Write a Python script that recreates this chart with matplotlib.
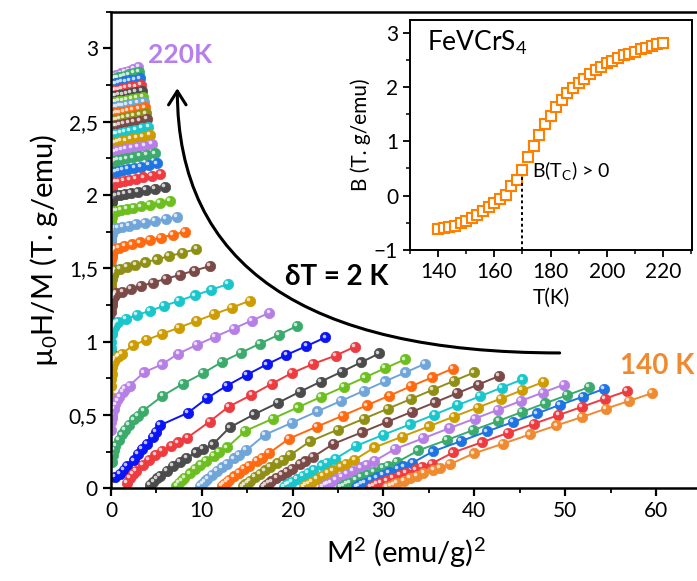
import matplotlib
matplotlib.use("Agg")
import matplotlib.pyplot as plt
import numpy as np
from matplotlib.ticker import MultipleLocator, FixedLocator, FixedFormatter
from matplotlib.transforms import ScaledTranslation

plt.rcParams['font.family'] = ['Lato', 'DejaVu Sans']
plt.rcParams['mathtext.fontset'] = 'custom'
plt.rcParams['mathtext.rm'] = 'Lato'
plt.rcParams['mathtext.it'] = 'Lato:italic'
plt.rcParams['mathtext.bf'] = 'Lato:bold'
plt.rcParams['mathtext.default'] = 'regular'

# applied field of each point (T)
fields = [0.05, 0.1, 0.15, 0.2, 0.3, 0.4, 0.5, 0.6, 0.75, 0.85, 1.0,
          1.5, 2.0, 2.5, 3.0, 3.5, 4.0, 4.5, 5.0]

# mu0H/M (T.g/emu) of each isotherm, same order as fields
hm_220 = [2.407, 2.557, 2.617, 2.677, 2.727, 2.747, 2.767, 2.777, 2.787, 2.797, 2.807, 2.810, 2.815, 2.821, 2.829, 2.838, 2.849, 2.861, 2.874]
hm_218 = [2.392, 2.542, 2.602, 2.662, 2.712, 2.732, 2.752, 2.762, 2.772, 2.782, 2.792, 2.794, 2.798, 2.802, 2.808, 2.814, 2.822, 2.830, 2.840]
hm_216 = [2.357, 2.507, 2.567, 2.627, 2.677, 2.697, 2.717, 2.727, 2.737, 2.747, 2.757, 2.759, 2.761, 2.765, 2.769, 2.775, 2.781, 2.787, 2.795]
hm_214 = [2.311, 2.461, 2.521, 2.581, 2.631, 2.651, 2.671, 2.681, 2.691, 2.701, 2.711, 2.713, 2.715, 2.719, 2.723, 2.729, 2.735, 2.741, 2.749]
hm_212 = [2.272, 2.422, 2.482, 2.542, 2.592, 2.612, 2.632, 2.642, 2.652, 2.662, 2.672, 2.674, 2.676, 2.680, 2.684, 2.690, 2.696, 2.702, 2.710]
hm_210 = [2.231, 2.381, 2.441, 2.501, 2.551, 2.571, 2.591, 2.601, 2.611, 2.621, 2.631, 2.633, 2.635, 2.639, 2.643, 2.649, 2.655, 2.661, 2.669]
hm_208 = [2.197, 2.347, 2.407, 2.467, 2.517, 2.537, 2.557, 2.567, 2.577, 2.587, 2.597, 2.599, 2.601, 2.605, 2.609, 2.615, 2.621, 2.627, 2.635]
hm_206 = [2.154, 2.304, 2.364, 2.424, 2.474, 2.494, 2.514, 2.524, 2.534, 2.544, 2.554, 2.556, 2.559, 2.563, 2.568, 2.574, 2.581, 2.588, 2.597]
hm_204 = [2.108, 2.258, 2.318, 2.378, 2.428, 2.448, 2.468, 2.478, 2.488, 2.498, 2.508, 2.510, 2.514, 2.518, 2.524, 2.530, 2.538, 2.546, 2.556]
hm_202 = [2.069, 2.219, 2.279, 2.339, 2.389, 2.409, 2.429, 2.439, 2.449, 2.459, 2.469, 2.471, 2.475, 2.479, 2.485, 2.491, 2.499, 2.507, 2.517]
hm_200 = [2.012, 2.162, 2.222, 2.282, 2.332, 2.352, 2.372, 2.382, 2.392, 2.402, 2.412, 2.415, 2.419, 2.424, 2.430, 2.437, 2.445, 2.455, 2.465]
hm_198 = [1.955, 2.105, 2.165, 2.225, 2.275, 2.295, 2.315, 2.325, 2.335, 2.345, 2.355, 2.358, 2.362, 2.367, 2.373, 2.380, 2.388, 2.398, 2.408]
hm_196 = [1.894, 2.044, 2.104, 2.164, 2.214, 2.234, 2.254, 2.264, 2.274, 2.284, 2.294, 2.297, 2.301, 2.306, 2.312, 2.319, 2.327, 2.337, 2.347]
hm_194 = [1.831, 1.981, 2.041, 2.101, 2.151, 2.171, 2.191, 2.201, 2.211, 2.221, 2.231, 2.234, 2.238, 2.243, 2.249, 2.256, 2.264, 2.274, 2.284]
hm_192 = [1.757, 1.907, 1.967, 2.027, 2.077, 2.097, 2.117, 2.127, 2.137, 2.147, 2.157, 2.160, 2.165, 2.170, 2.177, 2.184, 2.193, 2.204, 2.215]
hm_190 = [1.684, 1.834, 1.894, 1.954, 2.004, 2.024, 2.044, 2.054, 2.064, 2.074, 2.084, 2.087, 2.092, 2.097, 2.104, 2.111, 2.120, 2.131, 2.142]
hm_188 = [1.594, 1.744, 1.804, 1.864, 1.914, 1.934, 1.954, 1.964, 1.974, 1.984, 1.994, 1.997, 2.001, 2.007, 2.014, 2.023, 2.033, 2.044, 2.056]
hm_186 = [1.491, 1.641, 1.701, 1.761, 1.811, 1.831, 1.851, 1.861, 1.871, 1.881, 1.891, 1.894, 1.899, 1.905, 1.913, 1.922, 1.933, 1.945, 1.958]
hm_184 = [1.374, 1.524, 1.584, 1.644, 1.694, 1.714, 1.734, 1.744, 1.754, 1.764, 1.774, 1.778, 1.784, 1.792, 1.801, 1.812, 1.823, 1.837, 1.851]
hm_182 = [1.235, 1.385, 1.445, 1.505, 1.555, 1.575, 1.595, 1.605, 1.615, 1.625, 1.635, 1.642, 1.651, 1.663, 1.677, 1.692, 1.710, 1.729, 1.749]
hm_180 = [1.087, 1.237, 1.297, 1.357, 1.407, 1.427, 1.447, 1.457, 1.467, 1.477, 1.487, 1.496, 1.508, 1.523, 1.541, 1.561, 1.583, 1.606, 1.631]
hm_178 = [0.930, 1.080, 1.140, 1.200, 1.250, 1.270, 1.290, 1.300, 1.310, 1.320, 1.330, 1.342, 1.359, 1.379, 1.402, 1.428, 1.455, 1.485, 1.515]
hm_176 = [0.800, 0.900, 0.955, 1.000, 1.050, 1.072, 1.090, 1.102, 1.115, 1.126, 1.137, 1.156, 1.181, 1.2105, 1.2435, 1.279, 1.316, 1.354, 1.393]
hm_174 = [0.620, 0.700, 0.745, 0.780, 0.830, 0.852, 0.870, 0.880, 0.895, 0.905, 0.915, 0.9744, 1.0117, 1.0525, 1.0962, 1.141, 1.187, 1.2327, 1.279]
hm_172 = [0.400, 0.450, 0.476, 0.500, 0.540, 0.572, 0.600, 0.625, 0.660, 0.678, 0.700, 0.790, 0.845, 0.918, 0.9775, 1.0335, 1.089, 1.1435, 1.197]
hm_170 = [0.180, 0.230, 0.262, 0.290, 0.330, 0.367, 0.400, 0.430, 0.470, 0.495, 0.530, 0.630, 0.712, 0.785, 0.860, 0.925, 0.987, 1.047, 1.106]
hm_168 = [0.075, 0.100, 0.125, 0.150, 0.190, 0.232, 0.270, 0.302, 0.350, 0.382, 0.430, 0.515, 0.615, 0.700, 0.775, 0.845, 0.910, 0.970, 1.029]
hm_166 = [0.038, 0.0693, 0.0962, 0.120, 0.1606, 0.1955, 0.2261, 0.2537, 0.291, 0.3136, 0.345, 0.455, 0.556, 0.636, 0.713, 0.785, 0.848, 0.905, 0.965]
hm_164 = [0.0241, 0.0463, 0.0669, 0.0861, 0.1213, 0.1530, 0.1817, 0.2083, 0.2448, 0.2673, 0.2988, 0.415, 0.504, 0.583, 0.658, 0.728, 0.794, 0.858, 0.920]
hm_162 = [0.01863, 0.03653, 0.05375, 0.07034, 0.1019, 0.1314, 0.1593, 0.1857, 0.2228, 0.2462, 0.2795, 0.3903, 0.4742, 0.5514, 0.6237, 0.6915, 0.7564, 0.819, 0.879]
hm_160 = [0.01597, 0.03151, 0.04666, 0.0614, 0.0899, 0.1171, 0.1430, 0.1680, 0.2037, 0.2264, 0.2591, 0.3646, 0.4478, 0.5244, 0.5961, 0.6637, 0.7285, 0.7903, 0.850]
hm_158 = [0.01431, 0.02832, 0.04202, 0.05543, 0.08143, 0.1065, 0.1306, 0.1538, 0.1873, 0.2088, 0.2397, 0.3388, 0.4201, 0.495, 0.5655, 0.6321, 0.696, 0.7566, 0.8154]
hm_156 = [0.01313, 0.02602, 0.03867, 0.0511, 0.0753, 0.0987, 0.1214, 0.1434, 0.1752, 0.1956, 0.2253, 0.3204, 0.4002, 0.4739, 0.5433, 0.609, 0.672, 0.7324, 0.7906]
hm_154 = [0.0122, 0.0242, 0.036, 0.0476, 0.0703, 0.0923, 0.1136, 0.1344, 0.1645, 0.184, 0.2122, 0.3031, 0.3808, 0.4532, 0.5213, 0.586, 0.6481, 0.7076, 0.7651]
hm_152 = [0.01147, 0.02276, 0.03388, 0.04483, 0.06625, 0.0871, 0.1073, 0.1271, 0.1557, 0.1742, 0.2012, 0.2888, 0.3652, 0.4357, 0.5027, 0.5667, 0.6275, 0.6862, 0.7429]
hm_150 = [0.01086, 0.02157, 0.03213, 0.04256, 0.06301, 0.0829, 0.1024, 0.1214, 0.1490, 0.167, 0.1932, 0.2785, 0.3531, 0.4225, 0.4884, 0.5508, 0.6108, 0.6688, 0.7247]
hm_148 = [0.01036, 0.02058, 0.03068, 0.04066, 0.06024, 0.0794, 0.09806, 0.1163, 0.1430, 0.1603, 0.1857, 0.2682, 0.3411, 0.4096, 0.4742, 0.536, 0.5955, 0.6527, 0.7078]
hm_146 = [0.00994, 0.01975, 0.02945, 0.03902, 0.05781, 0.0762, 0.09409, 0.1116, 0.1372, 0.1539, 0.1782, 0.2579, 0.329, 0.396, 0.4594, 0.5203, 0.5789, 0.6349, 0.6894]
hm_144 = [0.00962, 0.01913, 0.02853, 0.03781, 0.05606, 0.0739, 0.09137, 0.1085, 0.1335, 0.1498, 0.1736, 0.2519, 0.3221, 0.3884, 0.4511, 0.5109, 0.569, 0.6243, 0.6785]
hm_142 = [0.00935, 0.01858, 0.02771, 0.03672, 0.05445, 0.0718, 0.0887, 0.1053, 0.1295, 0.1453, 0.1683, 0.2444, 0.3131, 0.3781, 0.4398, 0.4987, 0.5555, 0.6104, 0.6634]
hm_140 = [0.00907, 0.01803, 0.02689, 0.03564, 0.05286, 0.0697, 0.08616, 0.1023, 0.1259, 0.1412, 0.1637, 0.2374, 0.3044, 0.368, 0.4284, 0.486, 0.5421, 0.5958, 0.648]

isotherms = [hm_220, hm_218, hm_216, hm_214, hm_212, hm_210, hm_208, hm_206, hm_204,
             hm_202, hm_200, hm_198, hm_196, hm_194, hm_192, hm_190, hm_188, hm_186,
             hm_184, hm_182, hm_180, hm_178, hm_176, hm_174, hm_172, hm_170, hm_168,
             hm_166, hm_164, hm_162, hm_160, hm_158, hm_156, hm_154, hm_152, hm_150,
             hm_148, hm_146, hm_144, hm_142, hm_140]

# inset: intercept B vs temperature
inset_T = [140, 142, 144, 146, 148, 150, 152, 154, 156, 158, 160, 162, 164, 166,
           168, 170, 172, 174, 176, 178, 180, 182, 184, 186, 188, 190, 192, 194,
           196, 198, 200, 202, 204, 206, 208, 210, 212, 214, 216, 218, 220]
inset_B = [-0.62, -0.60, -0.58, -0.55, -0.50, -0.46, -0.42, -0.355, -0.29, -0.21,
           -0.13, -0.06, 0.02, 0.17, 0.28, 0.48, 0.71, 0.91, 1.12, 1.31, 1.47,
           1.63, 1.765, 1.88, 1.98, 2.07, 2.15, 2.23, 2.31, 2.37, 2.43, 2.48,
           2.53, 2.58, 2.61, 2.65, 2.69, 2.72, 2.75, 2.785, 2.80]

y_ticks = [0, 0.5, 1, 1.5, 2, 2.5, 3]
y_tick_labels = ['0', '0,5', '1', '1,5', '2', '2,5', '3']

palette = ['#b67fe6', '#3aab6b', '#1f74e3', '#ee3b40', '#4b4b4b', '#6cbf1f',
           '#6fa5d8', '#ff6a10', '#8f8f15', '#7b4a47', '#18c6cc', '#cc9c00']
colors = [palette[i % 12] for i in range(len(isotherms))]
colors[26] = '#0a14f5'
colors[40] = '#f08a30'

fig = plt.figure(figsize=(6.97, 5.81), dpi=100)
ax = fig.add_axes([111 / 697, 92.7 / 581, 589 / 697, 476.6 / 581])

H = np.array(fields)
hl = ax.transData + ScaledTranslation(-1.3 / 72, 1.3 / 72, fig.dpi_scale_trans)
for hm, c in zip(isotherms, colors):
    hm = np.array(hm)
    m2 = (H / hm) ** 2
    ax.plot(m2, hm, '-o', color=c, lw=1.4, ms=7.5, mec=c, mew=0.5)
    ax.plot(m2, hm, 'o', color='white', ms=2.6, alpha=0.75, mew=0, transform=hl)

ax.set_xlim(0, 64.85)
ax.set_ylim(0, 3.25)
ax.xaxis.set_major_locator(MultipleLocator(10))
ax.xaxis.set_minor_locator(MultipleLocator(5))
ax.yaxis.set_major_locator(FixedLocator(y_ticks))
ax.yaxis.set_major_formatter(FixedFormatter(y_tick_labels))
ax.yaxis.set_minor_locator(MultipleLocator(0.25))
ax.tick_params(which='major', direction='out', length=6, width=1.6, labelsize=15)
ax.tick_params(which='minor', direction='out', length=3.5, width=1.3)
for s in ax.spines.values():
    s.set_linewidth(1.8)
ax.spines['right'].set_visible(False)
ax.set_xlabel('M$^2$ (emu/g)$^2$', fontsize=21, labelpad=10)
ax.set_ylabel('µ$_0$H/M (T. g/emu)', fontsize=21, labelpad=6)

ax.text(4.1, 2.958, '220K', color='#b57ff0', fontsize=19, fontweight='bold', va='center')
ax.text(56.0, 0.834, '140 K', color='#f08a30', fontsize=20, fontweight='bold', va='center')
ax.text(19.2, 1.44, 'δT = 2 K', fontsize=20, fontweight='bold', va='center')
ax.annotate('', xy=(7.3, 2.728), xytext=(49.4, 0.923),
            arrowprops=dict(arrowstyle='->,head_length=0.55,head_width=0.35',
                            connectionstyle='angle3,angleA=0,angleB=90',
                            lw=2.2, color='black', mutation_scale=18,
                            shrinkA=0, shrinkB=0))

# inset
ax2 = fig.add_axes([410 / 697, 331 / 581, 282 / 697, 230 / 581])
ax2.plot(inset_T, inset_B, 's', mfc='white', mec='#ff7f00', ms=6.5, mew=1.5)
ax2.vlines(170, -1, 0.36, colors='black', linestyles=(0, (1.5, 1.5)), lw=1.4)
ax2.set_xlim(130, 230.3)
ax2.set_ylim(-1, 3.23)
ax2.xaxis.set_major_locator(MultipleLocator(20))
ax2.xaxis.set_minor_locator(MultipleLocator(10))
ax2.yaxis.set_major_locator(MultipleLocator(1))
ax2.yaxis.set_minor_locator(MultipleLocator(0.5))
ax2.tick_params(which='major', direction='out', length=5, width=1.3, labelsize=15)
ax2.tick_params(which='minor', direction='out', length=3, width=1.1)
for s in ax2.spines.values():
    s.set_linewidth(1.4)
ax2.set_xlabel('T(K)', fontsize=15, labelpad=4)
ax2.set_ylabel('B (T. g/emu)', fontsize=15, labelpad=2)
ax2.text(136, 2.8, 'FeVCrS$_4$', fontsize=19, va='center')
ax2.text(173.5, 0.46, 'B(T$_C$) > 0', fontsize=14, va='center')

fig.savefig('out.png', dpi=100)
